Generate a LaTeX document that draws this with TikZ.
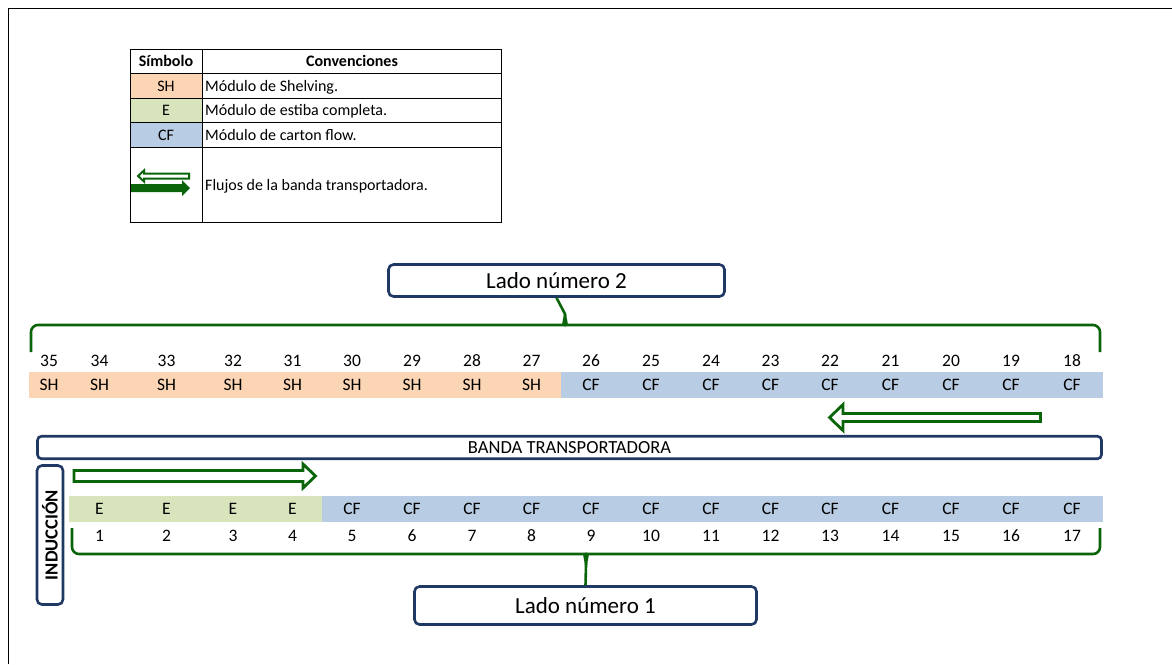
\documentclass[tikz,border=0pt]{standalone}
\usepackage{fontspec}
\setmainfont{Carlito}
\usepackage{xcolor}
\usetikzlibrary{positioning, calc}

\definecolor{shcol}{HTML}{FCD5B4}
\definecolor{ecol}{HTML}{D8E4BC}
\definecolor{cfcol}{HTML}{B8CCE4}
\definecolor{flowgreen}{HTML}{0A640A}
\definecolor{navyline}{HTML}{203864}

\begin{document}
\begin{tikzpicture}[
  x=1pt, y=-1pt,
  cell/.style={inner sep=0pt, text height=11pt, text depth=0pt,
               font=\fontsize{17.5}{17.5}\selectfont},
  key/.style={cell, text height=10pt, font=\fontsize{16}{16}\selectfont},
  hdr/.style={key, font=\fontsize{16}{16}\selectfont\bfseries},
  lbl/.style={key, anchor=west},
  side/.style={draw=navyline, line width=2.6pt, rounded corners=5pt,
               fill=white, inner sep=0pt},
  brace/.style={draw=flowgreen, line width=2.6pt},
  flow/.style={draw=flowgreen, line width=2.8pt, fill=white, line join=miter},
  grid/.style={draw=black, line width=1pt}
]
  \useasboundingbox (0,0) rectangle (1172,664);
  \draw[line width=1.3pt] (8.5,664) -- (8.5,8.5) -- (1172,8.5);

  % Legend
  \fill[shcol] (130,73.3) rectangle (202.5,98.3);
  \fill[ecol] (130,98.3) rectangle (202.5,122.7);
  \fill[cfcol] (130,122.7) rectangle (202.5,147.7);
  \draw[grid] (130,49) rectangle (501,222.5);
  \draw[grid] (202.5,49) -- (202.5,222.5);
  \foreach \y in {73.3,98.3,122.7,147.7}
    \draw[grid] (130,\y) -- (501,\y);
  \node[hdr] (simb) at (166,61.5) {Símbolo};
  \node[hdr] (conv) at (352,61.5) {Convenciones};
  \node[key] (ksh) at (166,86) {SH};
  \node[key] (ke) at (166,110.5) {E};
  \node[key] (kcf) at (166,135.5) {CF};
  \node[lbl] (tsh) at (205,86) {Módulo de Shelving.};
  \node[lbl] (te) at (205,110.5) {Módulo de estiba completa.};
  \node[lbl] (tcf) at (205,135.5) {Módulo de carton flow.};
  \node[lbl] (tflow) at (205,185) {Flujos de la banda transportadora.};
  \draw[flow, line width=2pt] (138,176) -- (144,170.5) -- (144,173.5) -- (189,173.5)
    -- (189,178.5) -- (144,178.5) -- (144,181.5) -- cycle;
  \fill[flowgreen] (131,184) -- (182,184) -- (182,180) -- (190,188) -- (182,196)
    -- (182,192) -- (131,192) -- cycle;

  % Side 2
  \node[side, minimum width=336, minimum height=32,
        font=\fontsize{23}{23}\selectfont] (lado2) at (556.5,280.5) {Lado número 2};
  \coordinate (b2l) at (31,352);
  \coordinate (b2r) at (1100,352);
  \draw[brace] (b2l) [rounded corners=7pt] -- (31,325) -- (557,325)
    [sharp corners] to[out=0,in=-90] (565,314) -- (lado2.south);
  \draw[brace] (b2r) [rounded corners=7pt] -- (1100,325) -- (573,325)
    [sharp corners] to[out=180,in=-90] (565,314);

  % Modules
  \fill[shcol] (29,372) rectangle (561,397.5);
  \fill[cfcol] (561,372) rectangle (1103,397.5);
  \fill[ecol] (69,496) rectangle (322,522);
  \fill[cfcol] (322,496) rectangle (1103,522);
  \foreach \xa/\xb [count=\i from 0] in {29/69,69/130,130/203,203/263,263/322,
      322/382,382/442,442/502,502/561,561/621,621/681,681/741,741/800,800/860,
      860/921,921/981,981/1041,1041/1103} {
    \pgfmathtruncatemacro{\n}{35-\i}
    \ifnum\i<9 \def\tipo{SH}\else\def\tipo{CF}\fi
    \node[cell] (n\n) at ({(\xa+\xb)/2},361) {\n};
    \node[cell] (m\n) at ({(\xa+\xb)/2},385) {\tipo};
    \ifnum\i>0
      \ifnum\i<5 \def\tipo{E}\else\def\tipo{CF}\fi
      \node[cell] (m\i) at ({(\xa+\xb)/2},509) {\tipo};
      \node[cell] (n\i) at ({(\xa+\xb)/2},536) {\i};
    \fi
  }

  % Conveyor
  \draw[flow] (829.5,417.5) -- (843,404.5) -- (843,413.5) -- (1040.5,413.5)
    -- (1040.5,421.5) -- (843,421.5) -- (843,430.5) -- cycle;
  \node[side, rounded corners=4pt, minimum width=1064, minimum height=22.5,
        font=\fontsize{18.5}{18.5}\selectfont] (banda) at (569.5,447.5) {BANDA TRANSPORTADORA};
  \node[side, rotate=90, minimum width=139, minimum height=26,
        font=\fontsize{18.5}{18.5}\selectfont\bfseries] (induc) at (50,535) {INDUCCIÓN};
  \draw[flow] (74,470.5) -- (303,470.5) -- (303,464) -- (315.5,476) -- (303,488)
    -- (303,481.5) -- (74,481.5) -- cycle;

  % Side 1
  \node[side, minimum width=342, minimum height=38,
        font=\fontsize{23}{23}\selectfont] (lado1) at (585.5,605.5) {Lado número 1};
  \coordinate (b1l) at (72,528);
  \coordinate (b1r) at (1100,528);
  \draw[brace] (b1l) [rounded corners=7pt] -- (72,554) -- (578,554)
    [sharp corners] to[out=0,in=90] (586,565) -- (lado1.north);
  \draw[brace] (b1r) [rounded corners=7pt] -- (1100,554) -- (594,554)
    [sharp corners] to[out=180,in=90] (586,565);
\end{tikzpicture}
\end{document}
